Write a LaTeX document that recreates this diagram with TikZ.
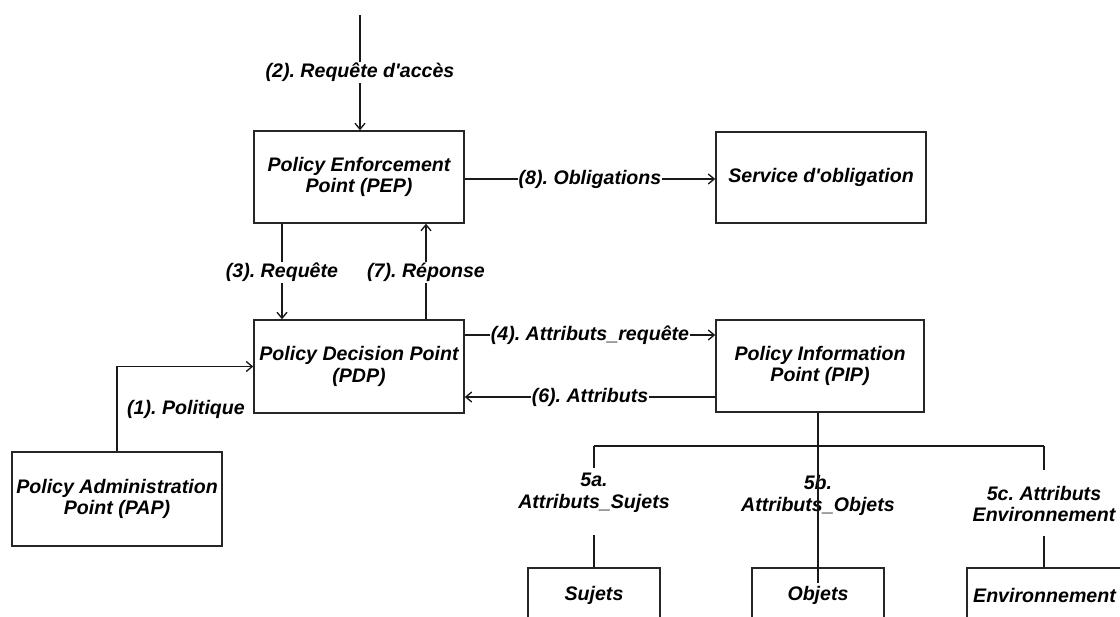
\documentclass[tikz,border=0pt]{standalone}
\usepackage{fontspec}
\setmainfont{Liberation Sans}
\usetikzlibrary{arrows.meta}
\frenchspacing
\begin{document}
\begin{tikzpicture}[x=0.75pt,y=-0.75pt,
  every node/.style={font=\fontsize{14.7pt}{16.3pt}\selectfont\bfseries\itshape, text=black},
  box/.style={draw=black!85, line width=1.1pt, rectangle, align=center, inner sep=0pt},
  link/.style={draw=black!90, line width=1pt},
  arr/.style={link, -{Straight Barb[length=4.5pt,width=7.5pt,line width=1pt]}},
  elab/.style={fill=white, inner sep=0.75pt, align=center},
  tlab/.style={inner sep=0pt, align=center}]
\useasboundingbox (0,0) rectangle (1120,617);
\clip (0,0) rectangle (1120,617);

% components
\node[box, minimum width=210*0.75pt, minimum height=92*0.75pt] (pep) at (359,177) {Policy Enforcement\\Point (PEP)};
\node[box, minimum width=210*0.75pt, minimum height=91*0.75pt] (so) at (821,177.5) {Service d\textquotesingle obligation};
\node[box, minimum width=210*0.75pt, minimum height=93*0.75pt] (pdp) at (359,366.5) {Policy Decision Point\\(PDP)};
\node[box, minimum width=208*0.75pt, minimum height=92*0.75pt] (pip) at (820,366) {Policy Information\\Point (PIP)};
\node[box, minimum width=210*0.75pt, minimum height=94*0.75pt] (pap) at (117,499) {Policy Administration\\Point (PAP)};
\node[box, minimum width=132*0.75pt, minimum height=55*0.75pt] (suj) at (594,595.5) {Sujets};
\node[box, minimum width=132*0.75pt, minimum height=55*0.75pt] (obj) at (818,595.5) {Objets};
\node[box, minimum width=155*0.75pt, minimum height=55*0.75pt] (env) at (1044.5,595.5) {Environnement};

% helper coordinates
\coordinate (src) at (360,15);
\coordinate (c3) at (282,0);
\coordinate (c7) at (426,0);
\coordinate (c8) at (0,179);
\coordinate (c4) at (0,335);
\coordinate (c6) at (0,397);
\coordinate (cpip) at (818,0);

% (2) access request into the PEP
\draw[arr] (src) -- (pep.north -| src) node[elab, midway] {(2). Requête d\textquotesingle accès};
% (8) obligations
\draw[arr] (pep.east |- c8) -- (so.west |- c8) node[elab, midway] {(8). Obligations};
% (3) request and (7) response between PEP and PDP
\draw[arr] (pep.south -| c3) -- (pdp.north -| c3) node[elab, midway, yshift=-0.75pt] {(3). Requête};
\draw[arr] (pdp.north -| c7) -- (pep.south -| c7) node[elab, midway, yshift=-0.75pt] {(7). Réponse};
% (4) and (6) between PDP and PIP
\draw[arr] (pdp.east |- c4) -- (pip.west |- c4) node[elab, midway] {(4). Attributs\_requête};
\draw[arr] (pip.west |- c6) -- (pdp.east |- c6) node[elab, midway] {(6). Attributs};
% (1) policy from the PAP
\draw[arr] (pap.north) |- (pdp.west);
\node[tlab] (l1) at (186,409) {(1). Politique};

% attribute sources
\coordinate (bl) at (594,446);
\coordinate (br) at (1044,446);
\coordinate (sa) at (594,468);
\coordinate (sb) at (594,535);
\coordinate (ea) at (1044,470);
\coordinate (eb) at (1044,536);
\coordinate (oend) at (818,583);
\draw[link] (bl) -- (br);
\draw[link] (bl) -- (sa);
\draw[link] (sb) -- (suj.north -| sb);
\draw[link] (br) -- (ea);
\draw[link] (eb) -- (env.north -| eb);
\node[tlab] (l5a) at (594,493) {5a.\\Attributs\_Sujets};
\node[tlab] (l5b) at (818,495.5) {5b.\\Attributs\_Objets};
\node[tlab] (l5c) at (1044,504) {5c. Attributs\\Environnement};
\draw[link] (pip.south -| cpip) -- (oend);
\end{tikzpicture}
\end{document}
